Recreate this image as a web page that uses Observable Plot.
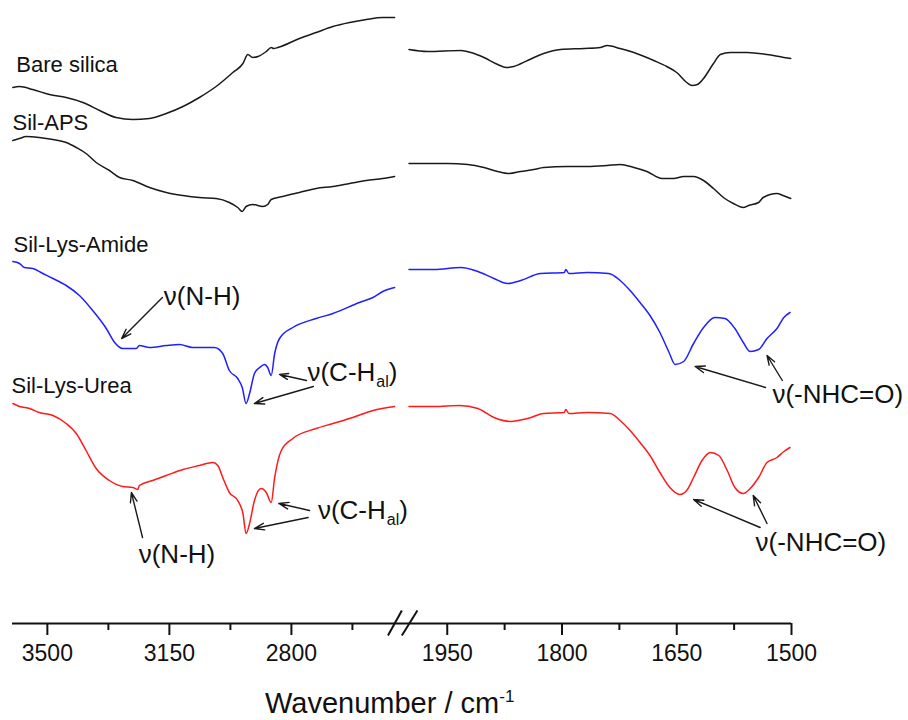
<!DOCTYPE html>
<html><head><meta charset="utf-8">
<script src="https://cdn.jsdelivr.net/npm/d3@7"></script>
<script src="https://cdn.jsdelivr.net/npm/@observablehq/plot@0.6"></script>
<style>
body{margin:0;background:#fff;font-family:"Liberation Sans",Arial,sans-serif;overflow:hidden}
#chart svg{display:block}
#xtitle{margin-top:17px;margin-left:265px;font-size:29px;line-height:29px;height:29px;color:#111;white-space:nowrap}
#xtitle sup{font-size:17px;line-height:0;vertical-align:0.62em}
</style></head><body>
<div id="chart"></div>
<div id="xtitle">Wavenumber / cm<sup>-1</sup></div>
<script>
// ---- data (transmittance, arbitrary offset units) ----
const seriesNames = ["Bare silica", "Sil-APS", "Sil-Lys-Amide", "Sil-Lys-Urea"];
const seriesColors = ["#1a1a1a", "#1a1a1a", "#1f1fff", "#ff1a1a"];

const bareWn = [3599,3580,3542,3494,3446,3398,3350,3303,3255,3207,3159,3111,3064,3016,2968,2939,2925,2911,2896,2872,2858,2851,2839,2777,2729,2681,2633,2585,2538,2504,
  2000,1976,1932,1919,1902,1884,1873,1863,1845,1824,1802,1771,1750,1741,1724,1706,1680,1663,1650,1637,1630,1623,1615,1602,1593,1580,1558,1532,1510,1501];
const bareT = [536,537,534,529,526,521,513,506,504,505,510,517,526,537,551,560,569,566,567,572,576,575,576,585,591,597,601,604,606,606,
  574,572,573,571,566,559,556,557,563,570,574,575,576,578,575,571,563,557,551,541,538,539,545,560,569,571,571,569,566,565];

const apsWn = [3599,3580,3561,3523,3484,3446,3417,3389,3360,3322,3293,3255,3207,3159,3111,3064,3016,2978,2954,2941,2930,2911,2882,2868,2858,2825,2777,2729,2681,2633,2585,2538,2504,
  2000,1950,1923,1902,1884,1869,1854,1837,1824,1793,1767,1741,1724,1706,1689,1669,1654,1641,1628,1615,1602,1589,1576,1563,1556,1543,1537,1519,1511,1501];
const apsT = [483,485,487,486,484,481,476,470,461,453,446,443,436,431,428,426,425,421,416,412,417,419,417,419,424,427,431,435,437,440,443,445,447,
  460,460,459,456,452,450,452,454,456,457,457,458,459,456,452,445,445,447,447,443,435,426,420,416,418,421,426,430,428,425];

const amideWn = [3599,3580,3566,3542,3513,3484,3446,3408,3370,3331,3307,3284,3245,3236,3207,3159,3121,3083,3044,3021,2997,2978,2954,2941,2930,2920,2906,2891,2877,2868,2858,2848,2834,2796,2729,2681,2605,2566,2538,2504,
  2000,1967,1932,1910,1889,1871,1854,1828,1797,1795,1791,1767,1739,1724,1711,1698,1685,1672,1660,1652,1641,1628,1615,1600,1587,1574,1563,1554,1543,1532,1519,1510,1502];
const amideT = [362,360,356,355,350,345,338,328,313,295,281,275,275,278,276,278,279,276,276,276,270,253,245,236,220,230,250,256,259,256,248,270,285,296,305,310,321,326,332,336,
  354,354,356,352,345,340,343,350,351,354,350,351,350,343,333,321,308,291,271,259,262,280,296,306,305,295,281,272,274,285,295,306,311];

const ureaWn = [3599,3580,3551,3523,3484,3446,3417,3389,3360,3322,3284,3255,3241,3236,3198,3159,3111,3064,3025,3011,2997,2978,2954,2939,2930,2920,2906,2887,2872,2858,2848,2829,2796,2729,2681,2624,2566,2504,
  2000,1967,1934,1910,1889,1867,1845,1824,1797,1795,1791,1767,1737,1724,1711,1698,1685,1672,1659,1646,1637,1628,1617,1606,1595,1584,1574,1563,1554,1543,1532,1519,1510,1502];
const ureaT = [220,217,215,211,208,200,190,173,155,143,137,136,134,138,143,148,154,158,161,158,146,131,123,110,90,100,123,135,131,121,146,173,185,195,200,206,213,217,
  217,217,218,215,206,202,205,210,211,214,210,211,210,203,193,181,168,151,136,129,133,146,163,171,168,153,136,130,135,146,161,166,172,176];

// tick labels
const majorTicks = [3500, 3150, 2800, 1950, 1800, 1650, 1500];
const minorTicks = [3325, 2975, 2625, 1875, 1725, 1575];

// series name labels
const labelText = seriesNames;
const labelWn = [3589, 3600, 3597, 3603];
const labelT = [552, 494, 372, 231];

// annotation labels
const annoText = ["ν(N-H)", "ν(N-H)", "ν(-NHC=O)", "ν(-NHC=O)"];
const annoWn = [3166, 3238, 1525, 1547];
const annoT = [319, 61, 221, 73];
const chWn = [2754, 2724];
const chT = [243, 105];

// arrows
const arrowFromWn = [3170, 2757, 2737, 3227, 2748, 2752, 1534, 1512, 1541, 1532];
const arrowFromT  = [326, 243, 237, 86, 113, 106, 236, 243, 96, 100];
const arrowToWn   = [3287, 2834, 2906, 3259, 2836, 2906, 1626, 1532, 1628, 1550];
const arrowToT    = [285, 249, 220, 131, 120, 95, 257, 268, 124, 128];

// axis break marks (wavenumber, transmittance units)
const breakX1 = [2523, 2274];
const breakX2 = [2274, 1989];
const breakY1 = [-12, -12];
const breakY2 = [13, 13];

// ---- build tables ----
const rows = [];
[[bareWn, bareT], [apsWn, apsT], [amideWn, amideT], [ureaWn, ureaT]].forEach(([wn, t], i) => {
  wn.forEach((w, j) => rows.push({series: seriesNames[i], seg: w > 2250 ? "L" : "R", wn: w, t: t[j]}));
});
const labels = labelText.map((s, i) => ({text: s, wn: labelWn[i], t: labelT[i]}));
const annos = annoText.map((s, i) => ({text: s, wn: annoWn[i], t: annoT[i]}));
const chs = chWn.map((w, i) => ({wn: w, t: chT[i]}));
const arrows = arrowFromWn.map((w, i) => ({x1: w, y1: arrowFromT[i], x2: arrowToWn[i], y2: arrowToT[i]}));
const breaks = breakX1.map((w, i) => ({x1: w, x2: breakX2[i], y1: breakY1[i], y2: breakY2[i]}));

const FONT = "Liberation Sans";
const ctx = document.createElement("canvas").getContext("2d");
ctx.font = `26px "${FONT}"`;
const wMain = ctx.measureText("ν(C-H").width;
ctx.font = `16px "${FONT}"`;
const wSub = ctx.measureText("al").width;

const ink = "#111";
const chart = Plot.plot({
  width: 908,
  height: 672,
  marginLeft: 12,
  marginRight: 117,
  marginTop: 10,
  marginBottom: 49,
  style: {fontFamily: `"${FONT}", Arial, sans-serif`, background: "#fff", color: ink},
  x: {type: "linear", domain: [3600, 2500, 2000, 1500], range: [12, 395.5, 408.5, 791]},
  y: {domain: [0, 613], range: [623, 10], axis: null},
  color: {domain: seriesNames, range: seriesColors},
  marks: [
    Plot.line(rows, {x: "wn", y: "t", z: d => d.series + d.seg, stroke: "series", strokeWidth: 1.5, curve: "monotone-x"}),
    Plot.ruleY([0], {stroke: ink, strokeWidth: 2}),
    Plot.link(breaks, {x1: "x1", y1: "y1", x2: "x2", y2: "y2", stroke: ink, strokeWidth: 2}),
    Plot.axisX({ticks: majorTicks, tickSize: 12, tickPadding: 9, tickFormat: d => String(d), fontSize: 23, strokeWidth: 2, stroke: ink, fill: ink, label: null}),
    Plot.axisX({ticks: minorTicks, tickSize: 7, tickFormat: () => "", strokeWidth: 2, stroke: ink, label: null}),
    Plot.text(labels, {x: "wn", y: "t", text: "text", textAnchor: "start", lineAnchor: "bottom", fontSize: 22, fill: ink}),
    Plot.text(annos, {x: "wn", y: "t", text: "text", textAnchor: "start", lineAnchor: "bottom", fontSize: 26, fill: ink}),
    Plot.text(chs, {x: "wn", y: "t", text: () => "ν(C-H", textAnchor: "start", lineAnchor: "bottom", fontSize: 26, fill: ink}),
    Plot.text(chs, {x: "wn", y: "t", text: () => "al", textAnchor: "start", lineAnchor: "bottom", fontSize: 16, dx: wMain + 1, dy: 6, fill: ink}),
    Plot.text(chs, {x: "wn", y: "t", text: () => ")", textAnchor: "start", lineAnchor: "bottom", fontSize: 26, dx: wMain + wSub + 1, fill: ink}),
    Plot.arrow(arrows, {x1: "x1", y1: "y1", x2: "x2", y2: "y2", stroke: "#1a1a1a", strokeWidth: 1.4, headLength: 11, headAngle: 38})
  ]
});
document.getElementById("chart").appendChild(chart);
</script></body></html>
